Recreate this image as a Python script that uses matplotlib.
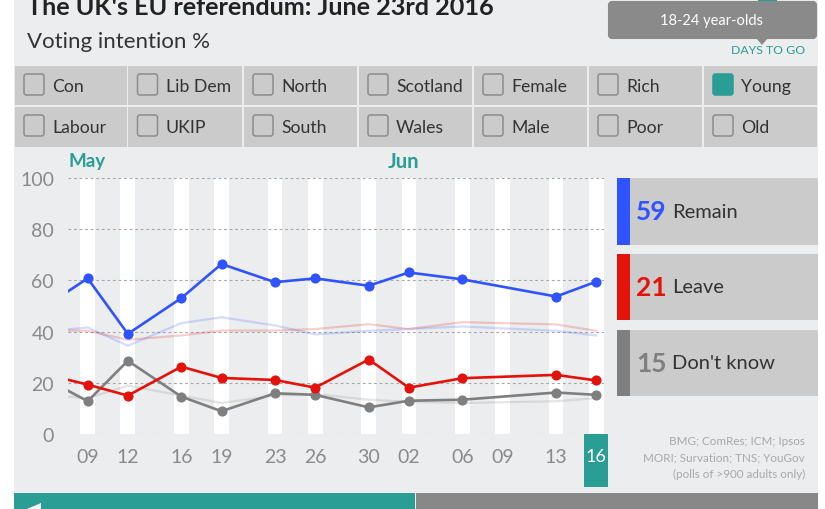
import matplotlib
matplotlib.use("Agg")
import matplotlib.pyplot as plt
from matplotlib.patches import FancyBboxPatch, Polygon, Rectangle

plt.rcParams["font.family"] = ["Lato", "DejaVu Sans"]

# days counted from May 1st, so Jun 2 = 33
poll_days = [5, 9, 12, 16, 19, 23, 26, 30, 33, 37, 44, 47]
band_days = [9, 12, 16, 19, 23, 26, 30, 33, 37, 40, 44, 47]
day_labels = ["09", "12", "16", "19", "23", "26", "30", "02", "06", "09", "13", "16"]

remain = [47, 60.8, 39.1, 53.1, 66.4, 59.3, 60.8, 57.9, 63.1, 60.4, 53.7, 59.5]
leave = [24.4, 19.3, 15, 26.3, 21.9, 21.1, 18.1, 29.1, 18.1, 21.8, 23.1, 20.9]
dont_know = [24, 12.8, 28.6, 14.6, 8.9, 15.9, 15.3, 10.4, 13, 13.4, 16.2, 15.3]

# the pale lines behind: all adults
remain_all = [39.7, 41.6, 34.5, 43.3, 45.6, 42.4, 38.9, 40.3, 41, 42, 40.3, 38.5]
leave_all = [40.6, 40.3, 36.8, 38.5, 40.4, 40.4, 41, 42.9, 41, 43.7, 42.8, 40.3]
dont_know_all = [15.6, 14, 18.9, 15, 12.1, 15, 15.6, 13.4, 12.6, 12.1, 12.8, 14]

buttons_top = ["Con", "Lib Dem", "North", "Scotland", "Female", "Rich", "Young"]
buttons_bottom = ["Labour", "UKIP", "South", "Wales", "Male", "Poor", "Old"]
legend_names = ["Remain", "Leave", "Don't know"]
legend_values = [59, 21, 15]

BLUE = "#2f54ff"
RED = "#e3120b"
GREY = "#7f7f7f"
TEAL = "#2a9d94"
PANEL = "#ecedef"
BOX = "#cbcbcb"
DARK = "#333333"

fig = plt.figure(figsize=(8.25, 5.1), dpi=100, facecolor="white")

# overlay in pixel coordinates for the app furniture
bg = fig.add_axes([0, 0, 1, 1])
bg.set_xlim(0, 825)
bg.set_ylim(510, 0)
bg.axis("off")


def box(x0, y0, x1, y1, color):
    bg.add_patch(Rectangle((x0, y0), x1 - x0, y1 - y0, color=color, lw=0))


box(14, 0, 818, 510, PANEL)
bg.text(27, 15, "The UK's EU referendum: June 23rd 2016", fontsize=18.2, color="#222222",
        fontweight="bold", va="baseline")
bg.text(27, 48, "Voting intention %", fontsize=16, color=DARK, va="baseline")

# tooltip
box(758, 0, 777, 2.5, TEAL)
bg.add_patch(FancyBboxPatch((609, 3), 207, 36, boxstyle="round,pad=0,rounding_size=3",
                            fc="#8a8a8a", ec="#8a8a8a", lw=1.5))
bg.add_patch(Polygon([(756, 39), (768, 39), (762, 46)], color="#8a8a8a", lw=0))
bg.text(712, 21, "18-24 year-olds", fontsize=10.5, color="white", ha="center", va="center")
bg.text(768, 51, "DAYS TO GO", fontsize=8.8, color=TEAL, ha="center", va="center")

# filter buttons
edges = [14, 127.5, 243, 358, 473, 588, 703, 818]
for row, (names, y0, y1) in enumerate([(buttons_top, 67, 106), (buttons_bottom, 108, 148)]):
    for i, name in enumerate(names):
        box(edges[i] + 0.8, y0, edges[i + 1] - 0.8, y1, BOX)
        on = name == "Young"
        bg.add_patch(FancyBboxPatch((edges[i] + 10, y0 + 8), 20, 21,
                                    boxstyle="round,pad=0,rounding_size=2.5",
                                    fc=TEAL if on else BOX, ec=TEAL if on else "#8c8c8c", lw=1.1))
        bg.text(edges[i] + 38, (y0 + y1) / 2 + 0.5, name, fontsize=12.7, color=DARK, va="center")

bg.text(68, 162, "May", fontsize=13.5, color=TEAL, fontweight="bold", va="center")
bg.text(388, 162, "Jun", fontsize=14.5, color=TEAL, fontweight="bold", va="center")

# legend boxes on the right
for name, value, color, (y0, y1) in zip(legend_names, legend_values, [BLUE, RED, GREY],
                                        [(179, 246), (255, 321), (331, 397)]):
    box(617, y0, 818, y1, BOX)
    box(617, y0, 630, y1, color)
    mid = (y0 + y1) / 2
    bg.text(651, mid, str(value), fontsize=19, color=color, fontweight="bold", ha="center", va="center")
    bg.text(672, mid, name, fontsize=14.5, color=DARK, va="center")

bg.text(805, 458, "BMG; ComRes; ICM; Ipsos\nMORI; Survation; TNS; YouGov\n(polls of >900 adults only)",
        fontsize=8.4, color="#a8a8a8", ha="right", va="center", linespacing=1.59)

box(584, 435, 608, 488, TEAL)

# bottom navigation bar
box(14, 494, 415, 510, TEAL)
box(416, 494, 818, 510, "#888888")
bg.add_patch(Polygon([(27, 510), (41, 510), (41, 504)], color="white", lw=0))

# chart
ax = fig.add_axes([68 / 825, 75 / 510, 536 / 825, 256 / 510], facecolor="none")
ax.set_xlim(7.53, 47.58)
ax.set_ylim(0, 100)
for side in ax.spines.values():
    side.set_visible(False)

for d in band_days:
    ax.axvspan(d - 0.55, d + 0.55, color="white", lw=0, zorder=1)
ax.set_yticks([0, 20, 40, 60, 80, 100])
ax.grid(axis="y", color="#a8a8a8", lw=0.8, ls=(0, (2.5, 2.5)))
ax.set_axisbelow(False)
for gl in ax.get_ygridlines():
    gl.set_zorder(2)

for values, color in [(remain_all, BLUE), (leave_all, RED), (dont_know_all, GREY)]:
    ax.plot(poll_days, values, color=color, lw=1.6, alpha=0.2, zorder=3)
for values, color in [(dont_know, GREY), (leave, RED), (remain, BLUE)]:
    ax.plot(poll_days, values, color=color, lw=1.9, marker="o", ms=7.3, mew=0, zorder=4)

ax.set_xticks(band_days, day_labels)
ax.tick_params(axis="both", length=0, labelsize=14, labelcolor="#8a8a8a")
ax.tick_params(axis="x", pad=10)
ax.tick_params(axis="y", pad=10)
last = ax.get_xticklabels()[-1]
last.set_color("white")
last.set_fontsize(13)

fig.savefig("out.png", dpi=100)
